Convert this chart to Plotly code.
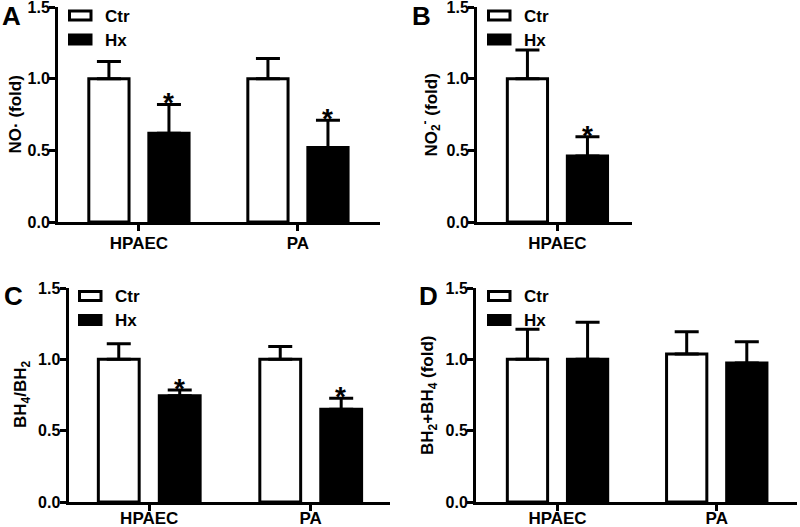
import plotly.graph_objects as go

# ---------------- data ----------------
cats_two = ["HPAEC", "PA"]
cats_one = ["HPAEC"]
series_names = ["Ctr", "Hx"]

# Panel A: NO· (fold)
a_ctr = [1.00, 1.00]
a_ctr_err = [0.12, 0.14]
a_hx = [0.62, 0.52]
a_hx_err = [0.20, 0.19]
a_sig = [True, True]

# Panel B: NO2- (fold)
b_ctr = [1.00]
b_ctr_err = [0.20]
b_hx = [0.46]
b_hx_err = [0.135]
b_sig = [True]

# Panel C: BH4/BH2
c_ctr = [1.00, 1.00]
c_ctr_err = [0.11, 0.09]
c_hx = [0.745, 0.65]
c_hx_err = [0.04, 0.077]
c_sig = [True, True]

# Panel D: BH2+BH4 (fold)
d_ctr = [1.00, 1.037]
d_ctr_err = [0.21, 0.157]
d_hx = [1.00, 0.974]
d_hx_err = [0.26, 0.15]
d_sig = [False, False]

y_ticks = [0.0, 0.5, 1.0, 1.5]

# ---------------- layout helpers ----------------
FONT = "Liberation Sans, Arial, sans-serif"
W, H = 800, 527
FILLS = {"Ctr": "white", "Hx": "black"}


def px_x(p):
    return p / W


def px_y(p):
    return 1 - p / H


panels = [
    dict(letter="A", cats=cats_two, ctr=a_ctr, ctr_err=a_ctr_err, hx=a_hx, hx_err=a_hx_err, sig=a_sig,
         title="NO· (fold)", xdom=[px_x(58), px_x(380)], ydom=[px_y(222), px_y(7)],
         xrange=[-0.509, 1.516], letter_pos=(11, 16), title_x=15, leg=(68, 15.5), lstand=-2),
    dict(letter="B", cats=cats_one, ctr=b_ctr, ctr_err=b_ctr_err, hx=b_hx, hx_err=b_hx_err, sig=b_sig,
         title="NO<sub>2</sub><sup>-</sup> (fold)", xdom=[px_x(477), px_x(632)], ydom=[px_y(222), px_y(7)],
         xrange=[-0.506, 0.469], letter_pos=(421, 16), title_x=431, leg=(487, 15.5), lstand=-2),
    dict(letter="C", cats=cats_two, ctr=c_ctr, ctr_err=c_ctr_err, hx=c_hx, hx_err=c_hx_err, sig=c_sig,
         title="BH<sub>4</sub>/BH<sub>2</sub>", xdom=[px_x(68.5), px_x(390)], ydom=[px_y(502), px_y(288)],
         xrange=[-0.5, 1.491], letter_pos=(13, 296), title_x=22, leg=(78, 296), lstand=-7),
    dict(letter="D", cats=cats_two, ctr=d_ctr, ctr_err=d_ctr_err, hx=d_hx, hx_err=d_hx_err, sig=d_sig,
         title="BH<sub>2</sub>+BH<sub>4</sub> (fold)", xdom=[px_x(476), px_x(797)], ydom=[px_y(502), px_y(288)],
         xrange=[-0.512, 1.504], letter_pos=(428, 296), title_x=429, leg=(487, 296), lstand=-7),
]

fig = go.Figure()
annotations = []
shapes = []
layout_axes = {}

for i, p in enumerate(panels, start=1):
    sfx = "" if i == 1 else str(i)
    xa, ya = "x" + sfx, "y" + sfx
    n = len(p["cats"])
    for name, vals, errs in (("Ctr", p["ctr"], p["ctr_err"]), ("Hx", p["hx"], p["hx_err"])):
        fig.add_trace(go.Bar(
            x=p["cats"], y=vals, name=name, xaxis=xa, yaxis=ya, showlegend=False,
            marker=dict(color=FILLS[name], line=dict(color="black", width=3)),
            error_y=dict(type="data", symmetric=False, array=errs, arrayminus=[0] * n,
                         thickness=3, width=12, color="black"),
        ))
    # significance stars above the Hx error bars
    for c, v, e, s in zip(p["cats"], p["hx"], p["hx_err"], p["sig"]):
        if s:
            annotations.append(dict(
                x=c, y=v + e, xref=xa, yref=ya, text="*", showarrow=False,
                xshift=30, yshift=-16, yanchor="bottom",
                font=dict(family=FONT, size=28, color="black", weight="bold"),
            ))
    # panel letter
    lx, ly = p["letter_pos"]
    annotations.append(dict(
        x=px_x(lx), y=px_y(ly), xref="paper", yref="paper", text=p["letter"],
        showarrow=False, xanchor="center", yanchor="middle",
        font=dict(family=FONT, size=26, color="black", weight="bold"),
    ))
    # y-axis title
    ymid = (p["ydom"][0] + p["ydom"][1]) / 2
    annotations.append(dict(
        x=px_x(p["title_x"]), y=ymid, xref="paper", yref="paper", text=p["title"],
        textangle=-90, showarrow=False, xanchor="center", yanchor="middle",
        font=dict(family=FONT, size=17, color="black", weight="bold"),
    ))
    # legend (swatch + label per series)
    gx, gy = p["leg"]
    for k, name in enumerate(series_names):
        cy = gy + 24 * k
        shapes.append(dict(
            type="rect", xref="paper", yref="paper",
            x0=px_x(gx + 1.5), x1=px_x(gx + 23), y0=px_y(cy - 4.5), y1=px_y(cy + 4.5),
            fillcolor=FILLS[name], line=dict(color="black", width=3),
        ))
        annotations.append(dict(
            x=px_x(gx + 35), y=px_y(cy + 0.5), xref="paper", yref="paper", text=name,
            showarrow=False, xanchor="left", yanchor="middle",
            font=dict(family=FONT, size=17, color="black", weight="bold"),
        ))

    layout_axes["xaxis" + sfx] = dict(
        domain=p["xdom"], anchor=ya, type="category", range=p["xrange"],
        showline=True, linecolor="black", linewidth=3, mirror=False,
        ticks="outside", ticklen=6, tickwidth=3, tickcolor="black",
        showgrid=False, zeroline=False, fixedrange=True, automargin=False,
        ticklabelstandoff=p["lstand"], ticklabeloverflow="allow",
        tickfont=dict(family=FONT, size=17, color="black", weight="bold"),
    )
    layout_axes["yaxis" + sfx] = dict(
        domain=p["ydom"], anchor=xa, range=[0, 1.5],
        tickvals=y_ticks, tickformat=".1f",
        showline=True, linecolor="black", linewidth=3,
        ticks="outside", ticklen=6, tickwidth=3, tickcolor="black",
        showgrid=False, zeroline=False, fixedrange=True, automargin=False,
        ticklabelstandoff=-4, ticklabeloverflow="allow",
        tickfont=dict(family=FONT, size=16, color="black", weight="bold"),
    )

fig.update_layout(
    width=W, height=H,
    margin=dict(l=0, r=0, t=0, b=0),
    paper_bgcolor="white", plot_bgcolor="white",
    barmode="group", bargap=0.245, bargroupgap=0.33,
    annotations=annotations,
    shapes=shapes,
    showlegend=False,
)
fig.update_layout(**layout_axes)

fig.write_html(
    "out.html",
    config={"displayModeBar": False},
    post_script="document.body.style.margin='0';document.body.style.overflow='hidden';",
)
